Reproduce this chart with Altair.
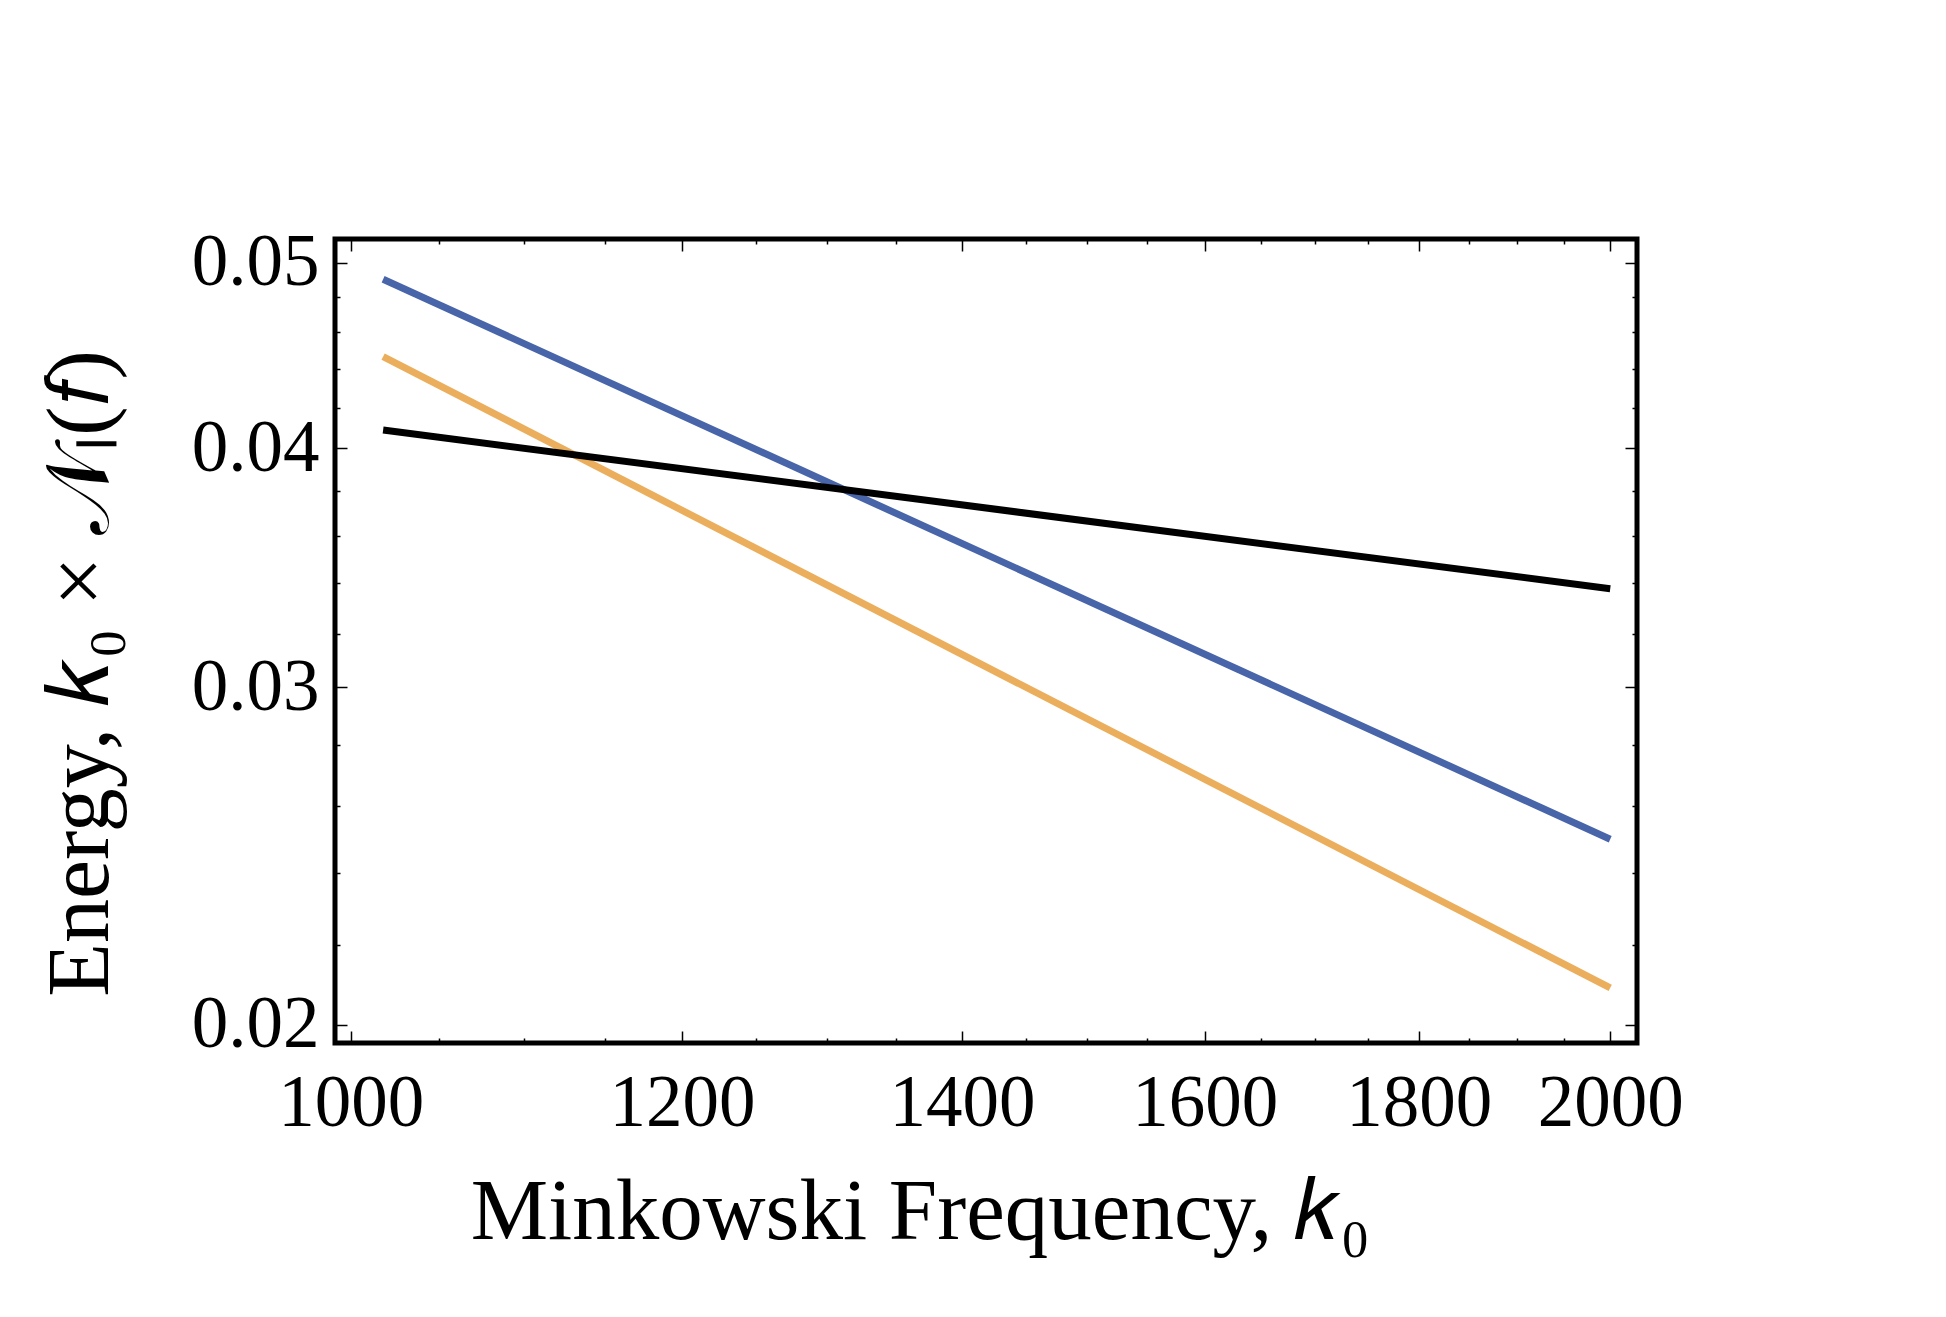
import altair as alt
import pandas as pd

# ---- data (straight lines on log-log axes) ----
series = ["blue", "orange", "black"]
k_start = 1018
k_end = 2000
energy_start = [0.04901, 0.04466, 0.04088]
energy_end = [0.02499, 0.02090, 0.03378]
colors = ["#4865aa", "#ebae5c", "#000000"]

x_major = [1000, 1200, 1400, 1600, 1800, 2000]
x_minor = [1050, 1100, 1150, 1250, 1300, 1350, 1450, 1500, 1550,
           1650, 1700, 1750, 1850, 1900, 1950]
y_major = [0.02, 0.03, 0.04, 0.05]
y_minor = [0.022, 0.024, 0.026, 0.028, 0.032, 0.034, 0.036, 0.038,
           0.042, 0.044, 0.046, 0.048]

rows = []
for s, a, b in zip(series, energy_start, energy_end):
    rows.append({"series": s, "k": k_start, "E": a})
    rows.append({"series": s, "k": k_end, "E": b})
df = pd.DataFrame(rows)

W, H = 1302, 804
FONT = "Liberation Serif"

xscale = alt.Scale(type="log", domain=[991.4, 2029.7], nice=False, zero=False)
yscale = alt.Scale(type="log", domain=[0.01956, 0.05144], nice=False, zero=False)
color = alt.Color("series:N", scale=alt.Scale(domain=series, range=colors), legend=None)

x_all = sorted(x_major + x_minor)
y_all = sorted(y_major + y_minor)
x_tick = {"condition": {"test": "datum.value % 200 == 0", "value": 12}, "value": 5}
y_tick = {"condition": {"test": "abs(datum.value * 100 - round(datum.value * 100)) < 0.000001",
                        "value": 12}, "value": 5}

main = alt.Chart(df).mark_line(strokeWidth=7, strokeCap="butt").encode(
    x=alt.X("k:Q", scale=xscale, axis=alt.Axis(
        orient="bottom", values=x_major, format="d", ticks=False, tickSize=0,
        domain=False, grid=False, labelFont=FONT, labelFontSize=73,
        labelColor="black", labelPadding=24, labelOverlap=False, labelFlush=False,
        title="Minkowski Frequency, 𝑘₀", titleFont=FONT, titleFontSize=87,
        titleFontWeight="normal", titleColor="black", titleX=585, titleY=195,
        titleAlign="center", titleBaseline="alphabetic")),
    y=alt.Y("E:Q", scale=yscale, axis=alt.Axis(
        orient="left", values=y_major, format=".2f", ticks=False, tickSize=0,
        domain=False, grid=False, labelFont=FONT, labelFontSize=73,
        labelColor="black", labelPadding=16, labelOverlap=False, labelFlush=False,
        title="Energy, 𝑘₀ × 𝒩ₗ(𝑓)", titleFont=FONT, titleFontSize=88,
        titleFontWeight="normal", titleColor="black", titleAngle=270,
        titleX=-228, titleY=434, titleAlign="center", titleBaseline="alphabetic")),
    color=color,
)


def tick_layer(xo, yo, xoff, yoff):
    return alt.Chart(df).mark_line(opacity=0).encode(
        x=alt.X("k:Q", scale=xscale, axis=alt.Axis(
            orient=xo, offset=xoff, values=x_all, labels=False, domain=False,
            grid=False, title=None, tickColor="black", tickWidth=1.5, tickSize=x_tick)),
        y=alt.Y("E:Q", scale=yscale, axis=alt.Axis(
            orient=yo, offset=yoff, values=y_all, labels=False, domain=False,
            grid=False, title=None, tickColor="black", tickWidth=1.5, tickSize=y_tick)),
        detail="series:N",
    )


ticks_a = tick_layer("top", "right", -H, -W)     # inward ticks on bottom and left frame
ticks_b = tick_layer("bottom", "left", -H, -W)   # inward ticks on top and right frame

chart = alt.layer(main, ticks_a, ticks_b).resolve_axis(
    x="independent", y="independent"
).properties(
    width=W, height=H,
    autosize=alt.AutoSizeParams(type="none"),
    padding={"left": 327, "top": 231, "right": 301, "bottom": 266},
    background="white",
).configure_view(stroke="black", strokeWidth=5)

chart.save("out.html", embed_options={"renderer": "svg", "actions": False})
